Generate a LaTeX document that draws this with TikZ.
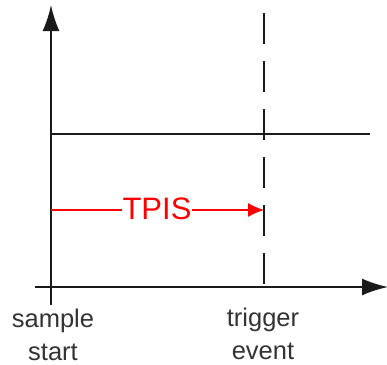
\documentclass[tikz,border=0pt]{standalone}
\usepackage{fontspec}
\setmainfont{Liberation Sans}
\usetikzlibrary{arrows.meta}
\definecolor{axisgray}{HTML}{1A1A1A}
\definecolor{textgray}{HTML}{333333}
\definecolor{tpisred}{HTML}{FF0000}
\tikzset{
  axisline/.style={draw=axisgray, line width=2pt},
  axisarrow/.style={axisline, -{Latex[length=26pt,width=17pt]}},
  eventline/.style={draw=axisgray, line width=2pt, dash pattern=on 31pt off 17pt},
  tpisarrow/.style={draw=tpisred, line width=1.2pt, -{Latex[length=16pt,width=14pt]}},
  tpislabel/.style={text=tpisred, fill=white, inner xsep=1pt, inner ysep=0pt, font=\fontsize{31}{34}\selectfont},
  axislabel/.style={text=textgray, align=center, inner sep=0pt, font=\fontsize{25.5}{33}\selectfont}
}
\begin{document}
\begin{tikzpicture}[x=1pt, y=-1pt]
\useasboundingbox (0,0) rectangle (387,364);
\coordinate (ybot) at (51,305);
\coordinate (ytop) at (51,5);
\coordinate (xleft) at (35,287);
\coordinate (xright) at (388,287);
\coordinate (levL) at (51,134);
\coordinate (levR) at (370,134);
\coordinate (evtop) at (264,13);
\coordinate (evbot) at (264,287);
\coordinate (tpisL) at (51,210);
\coordinate (tpisR) at (264,210);
\draw[axisarrow] (ybot) -- (ytop);
\draw[axisarrow] (xleft) -- (xright);
\draw[axisline] (levL) -- (levR);
\draw[eventline] (evtop) -- (evbot);
\draw[tpisarrow] (tpisL) -- (tpisR);
\node[tpislabel, anchor=base] (tpis) at (157,219) {TPIS};
\node[axislabel, anchor=base] (sample) at (53,360) {sample\\start};
\node[axislabel, anchor=base] (trigger) at (263,359) {trigger\\event};
\end{tikzpicture}
\end{document}
